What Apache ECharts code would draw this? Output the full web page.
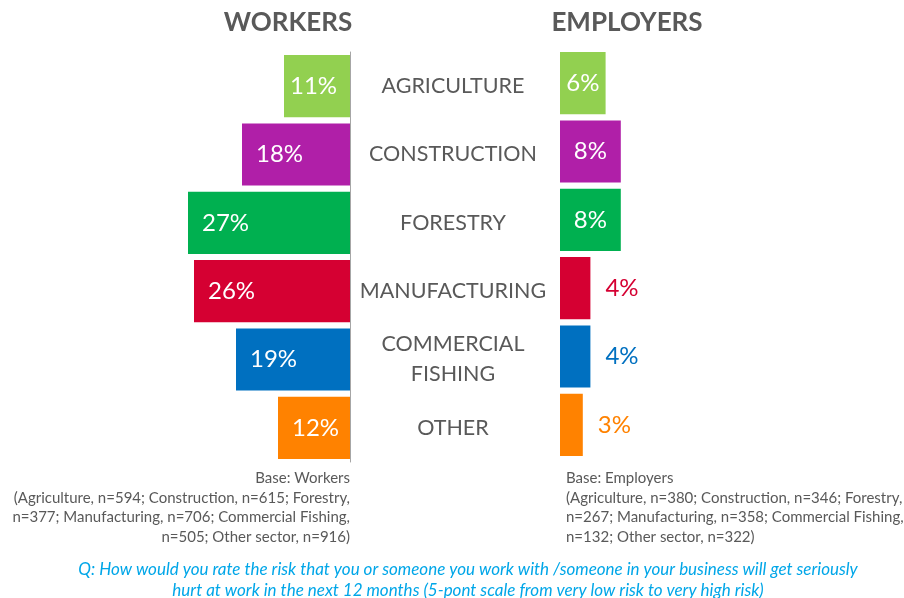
<!DOCTYPE html>
<html>
<head>
<meta charset="utf-8">
<script src="https://cdn.jsdelivr.net/npm/echarts@6/dist/echarts.min.js"></script>
<style>html,body{margin:0;padding:0;background:#fff}#c{width:904px;height:598px}</style>
</head>
<body>
<div id="c"></div>
<script>
const categories = ['AGRICULTURE', 'CONSTRUCTION', 'FORESTRY', 'MANUFACTURING', 'COMMERCIAL\nFISHING', 'OTHER'];
const workers = [11, 18, 27, 26, 19, 12];
const employers = [6, 8, 8, 4, 4, 3];
const employerLabelInside = [true, true, true, false, false, false];
const titles = ['WORKERS', 'EMPLOYERS'];
const baseWorkers = ['Base: Workers', '(Agriculture, n=594; Construction, n=615; Forestry,', 'n=377; Manufacturing, n=706; Commercial Fishing,', 'n=505; Other sector, n=916)'];
const baseEmployers = ['Base: Employers', '(Agriculture, n=380; Construction, n=346; Forestry,', 'n=267; Manufacturing, n=358; Commercial Fishing,', 'n=132; Other sector, n=322)'];
const question = ['Q: How would you rate the risk that you or someone you work with /someone in your business will get seriously', 'hurt at work in the next 12 months (5-pont scale from very low risk to very high risk)'];

const colors = ['#92D050', '#B01FA8', '#00B050', '#D50032', '#0070C0', '#FF8200'];
const FONT = 'Lato, "Open Sans", sans-serif';
const grey = '#595959';

const chart = echarts.init(document.getElementById('c'), null, {renderer: 'canvas'});

const graphic = [];
graphic.push({type: 'text', x: 288, y: 23, style: {text: titles[0], fill: grey, font: 'bold 26px ' + FONT, textAlign: 'center', textVerticalAlign: 'middle'}});
graphic.push({type: 'text', x: 627, y: 23, style: {text: titles[1], fill: grey, font: 'bold 26px ' + FONT, textAlign: 'center', textVerticalAlign: 'middle'}});
baseWorkers.forEach((t, i) => graphic.push({type: 'text', x: 350, y: 478 + i * 19.8, style: {text: t, fill: grey, font: '15px ' + FONT, textAlign: 'right', textVerticalAlign: 'middle'}}));
baseEmployers.forEach((t, i) => graphic.push({type: 'text', x: 566, y: 478 + i * 19.8, style: {text: t, fill: grey, font: '15px ' + FONT, textAlign: 'left', textVerticalAlign: 'middle'}}));
question.forEach((t, i) => graphic.push({type: 'text', x: 468, y: 570 + i * 20.5, style: {text: t, fill: '#00A6E8', font: 'italic 17px ' + FONT, textAlign: 'center', textVerticalAlign: 'middle'}}));

chart.setOption({
  animation: false,
  textStyle: {fontFamily: FONT},
  grid: [
    {left: 170, width: 180, top: 52, height: 410},
    {left: 560, width: 76, top: 49, height: 410}
  ],
  xAxis: [
    {gridIndex: 0, type: 'value', min: 0, max: 30, inverse: true, show: false},
    {gridIndex: 1, type: 'value', min: 0, max: 10, show: false}
  ],
  yAxis: [
    {gridIndex: 0, type: 'category', data: categories, inverse: true, position: 'right',
     axisLine: {show: true, lineStyle: {color: '#A6A6A6', width: 1}},
     axisTick: {show: false},
     axisLabel: {show: true, margin: 103, align: 'center', color: grey, fontSize: 21.5, lineHeight: 30, fontFamily: FONT}},
    {gridIndex: 1, type: 'category', data: categories, inverse: true,
     axisLine: {show: false}, axisTick: {show: false}, axisLabel: {show: false}}
  ],
  series: [
    {type: 'bar', xAxisIndex: 0, yAxisIndex: 0, barWidth: '91%',
     data: workers.map((v, i) => ({value: v, itemStyle: {color: colors[i]}, label: i === 0 ? {distance: 6} : {}})),
     label: {show: true, position: 'insideLeft', distance: 14, color: '#fff', fontSize: 24, fontFamily: FONT, formatter: '{c}%'}},
    {type: 'bar', xAxisIndex: 1, yAxisIndex: 1, barWidth: '91%',
     data: employers.map((v, i) => ({
       value: v, itemStyle: {color: colors[i]},
       label: employerLabelInside[i]
         ? {position: 'inside', color: '#fff'}
         : {position: 'right', distance: 15, color: colors[i]}
     })),
     label: {show: true, fontSize: 24, fontFamily: FONT, formatter: '{c}%'}}
  ],
  graphic: graphic
});
</script>
</body>
</html>
